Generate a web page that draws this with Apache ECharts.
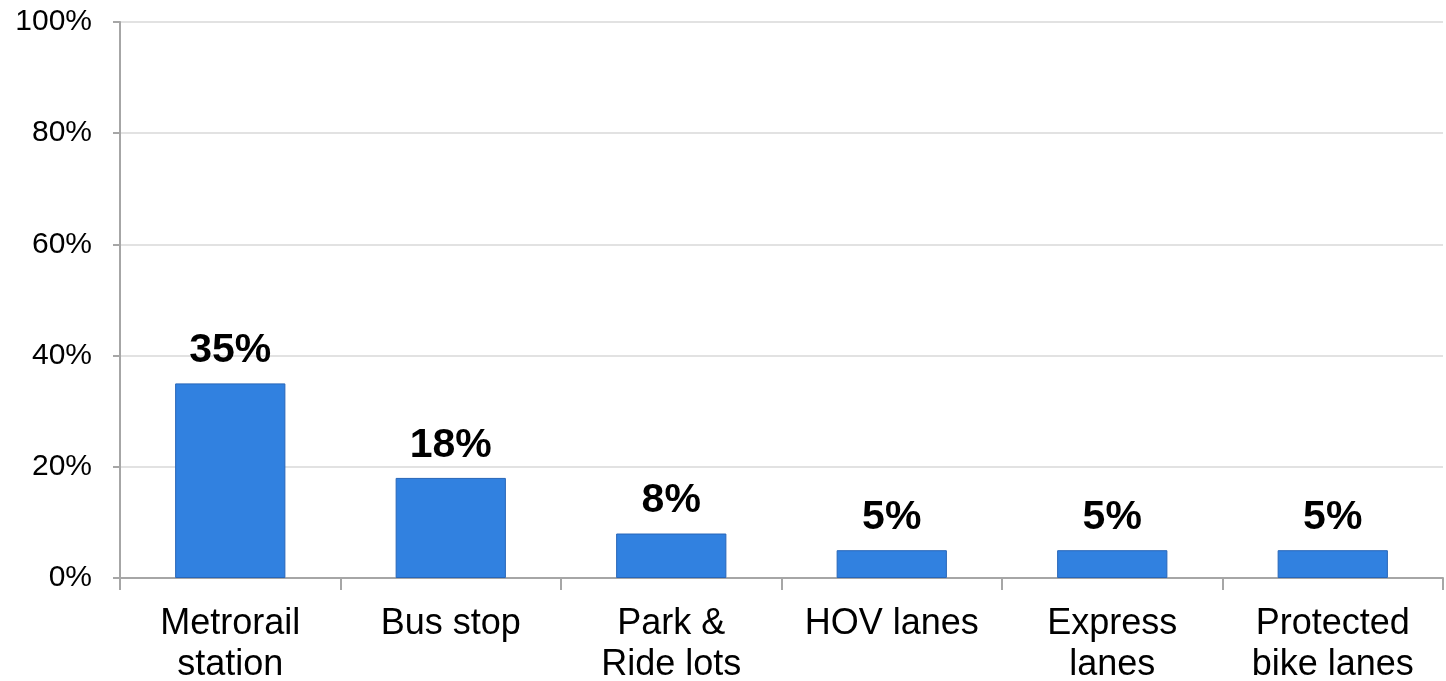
<!DOCTYPE html>
<html><head><meta charset="utf-8">
<script src="https://cdn.jsdelivr.net/npm/echarts@6/dist/echarts.min.js"></script>
<style>html,body{margin:0;padding:0;background:#fff}#c{width:1446px;height:681px}</style>
</head><body><div id="c"></div>
<script>
const categories = ["Metrorail\nstation", "Bus stop", "Park &\nRide lots", "HOV lanes", "Express\nlanes", "Protected\nbike lanes"];
const values = [35, 18, 8, 5, 5, 5];
const yTicks = [0, 20, 40, 60, 80, 100];

const chart = echarts.init(document.getElementById('c'));
chart.setOption({
  animation: false,
  grid: {left: 120, right: 3, top: 22, bottom: 103, containLabel: false, outerBoundsMode: 'none'},
  xAxis: {
    type: 'category', data: categories,
    axisLine: {lineStyle: {color: '#a6a6a6', width: 2}},
    axisTick: {show: true, length: 12, lineStyle: {color: '#a6a6a6', width: 2}},
    axisLabel: {fontFamily: 'Liberation Sans, Arial', fontSize: 36, color: '#000', lineHeight: 41, margin: 26, interval: 0}
  },
  yAxis: {
    type: 'value', min: 0, max: 100, interval: 20,
    axisLine: {show: true, lineStyle: {color: '#a6a6a6', width: 2}},
    axisTick: {show: true, length: 7, lineStyle: {color: '#a6a6a6', width: 2}},
    splitLine: {lineStyle: {color: '#d9d9d9', width: 1.5}},
    axisLabel: {fontFamily: 'Liberation Sans, Arial', fontSize: 30, color: '#000', margin: 28,
      formatter: v => yTicks.includes(v) ? v + '%' : ''}
  },
  series: [{
    type: 'bar', data: values, barWidth: '50%',
    itemStyle: {color: '#3181e0', borderColor: '#2866b8', borderWidth: 1},
    label: {show: true, position: 'top', distance: 12, formatter: p => p.value + '%',
      fontFamily: 'Liberation Sans, Arial', fontSize: 41, fontWeight: 'bold', color: '#000'}
  }]
});
</script></body></html>
